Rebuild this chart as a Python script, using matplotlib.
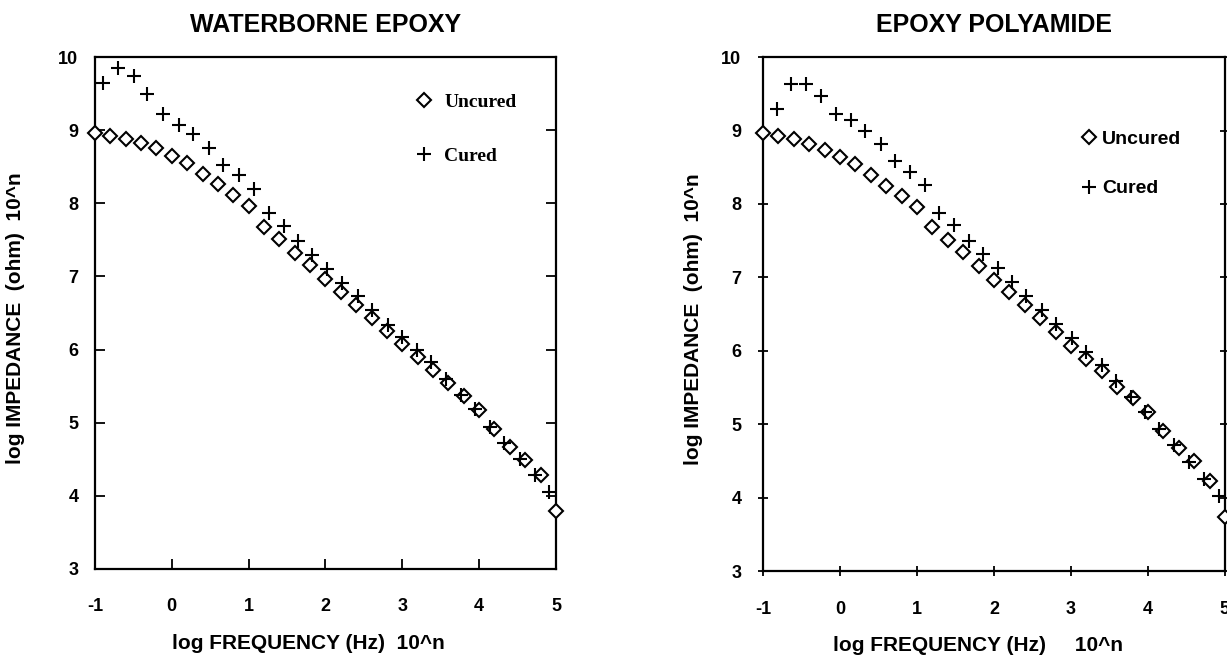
import matplotlib
matplotlib.use('Agg')
import matplotlib.pyplot as plt

# log frequency grid used for the uncured samples
freq = [-1.0, -0.8, -0.6, -0.4, -0.2, 0.0, 0.2, 0.4, 0.6, 0.8, 1.0, 1.2, 1.4, 1.6, 1.8, 2.0,
        2.2, 2.4, 2.6, 2.8, 3.0, 3.2, 3.4, 3.6, 3.8, 4.0, 4.2, 4.4, 4.6, 4.8, 5.0]

# WATERBORNE EPOXY
wb_uncured = [8.96, 8.92, 8.88, 8.82, 8.75, 8.65, 8.55, 8.40, 8.26, 8.11, 7.96, 7.68, 7.51, 7.32, 7.15, 6.96,
              6.79, 6.61, 6.43, 6.25, 6.08, 5.90, 5.72, 5.54, 5.36, 5.17, 4.92, 4.67, 4.49, 4.28, 3.79]
wb_cured_freq = [-0.90, -0.70, -0.49, -0.32, -0.11, 0.09, 0.28, 0.48, 0.67, 0.87, 1.07, 1.26, 1.46, 1.64, 1.83, 2.02,
                 2.22, 2.42, 2.60, 2.81, 2.99, 3.19, 3.38, 3.57, 3.77, 3.95, 4.14, 4.33, 4.53, 4.73, 4.91]
wb_cured = [9.65, 9.85, 9.74, 9.49, 9.22, 9.07, 8.95, 8.76, 8.53, 8.39, 8.20, 7.87, 7.69, 7.49, 7.29, 7.10,
            6.91, 6.73, 6.54, 6.34, 6.17, 6.00, 5.83, 5.60, 5.38, 5.19, 4.94, 4.72, 4.50, 4.28, 4.05]

# EPOXY POLYAMIDE
ep_uncured = [8.96, 8.92, 8.88, 8.82, 8.74, 8.64, 8.54, 8.39, 8.25, 8.11, 7.96, 7.68, 7.51, 7.34, 7.16, 6.97,
              6.80, 6.62, 6.44, 6.25, 6.07, 5.89, 5.73, 5.51, 5.35, 5.16, 4.91, 4.68, 4.50, 4.23, 3.73]
ep_cured_freq = [-0.82, -0.64, -0.44, -0.24, -0.05, 0.15, 0.32, 0.53, 0.71, 0.91, 1.10, 1.29, 1.48, 1.67, 1.86, 2.05,
                 2.24, 2.42, 2.63, 2.81, 3.01, 3.20, 3.40, 3.58, 3.78, 3.96, 4.15, 4.34, 4.54, 4.73, 4.92]
ep_cured = [9.29, 9.63, 9.63, 9.47, 9.23, 9.14, 8.99, 8.81, 8.59, 8.43, 8.26, 7.88, 7.71, 7.50, 7.32, 7.13,
            6.93, 6.75, 6.56, 6.37, 6.17, 5.98, 5.80, 5.59, 5.37, 5.16, 4.93, 4.71, 4.49, 4.25, 4.02]

xticks = [-1, 0, 1, 2, 3, 4, 5]
yticks = [3, 4, 5, 6, 7, 8, 9, 10]

plt.rcParams['font.family'] = 'Liberation Sans'
plt.rcParams['font.weight'] = 'bold'
plt.rcParams['axes.unicode_minus'] = False

fig = plt.figure(figsize=(12.27, 6.58), dpi=100)
ax1 = fig.add_axes([0.0774, 0.1353, 0.3757, 0.778])
ax2 = fig.add_axes([0.6218, 0.1322, 0.3765, 0.781])

panels = [
    (ax1, 'WATERBORNE EPOXY', wb_uncured, wb_cured_freq, wb_cured, 'in', 21, 'Liberation Serif',
     'log FREQUENCY (Hz)  10^n', 0.167),
    (ax2, 'EPOXY POLYAMIDE', ep_uncured, ep_cured_freq, ep_cured, 'inout', 18, 'Liberation Sans',
     'log FREQUENCY (Hz)     10^n', 0.152),
]

for ax, title, unc, cfreq, cur, tdir, xpad, legfont, xlab, xlab_x in panels:
    ax.plot(freq, unc, linestyle='none', marker='D', markersize=7.5, markerfacecolor='white',
            markeredgecolor='black', markeredgewidth=1.5, label='Uncured', clip_on=False, zorder=3)
    ax.plot(cfreq, cur, linestyle='none', marker='+', markersize=10, markeredgecolor='black',
            markeredgewidth=1.5, label='Cured', clip_on=False, zorder=4)

    ax.set_xlim(-1, 5)
    ax.set_ylim(3, 10)
    ax.set_xticks(xticks)
    ax.set_yticks(yticks)
    ax.tick_params(axis='both', labelsize=13, width=1.3, length=7, direction=tdir, right=True, top=False)
    ax.tick_params(axis='x', pad=xpad)
    ax.tick_params(axis='y', pad=12)
    for side in ax.spines.values():
        side.set_linewidth(1.6)

    ax.set_title(title, fontsize=18, fontweight='bold', pad=18)
    ax.set_xlabel(xlab, fontsize=15, fontweight='bold')
    ax.xaxis.set_label_coords(xlab_x, -0.145)
    ax.xaxis.label.set_ha('left')
    ax.xaxis.label.set_va('center')
    ax.set_ylabel('log IMPEDANCE  (ohm)  10^n', fontsize=15, fontweight='bold')

leg1 = ax1.legend(loc='upper left', bbox_to_anchor=(0.654, 0.964), frameon=False, handlelength=1.0,
                  handletextpad=0.55, labelspacing=1.9,
                  prop={'family': 'Liberation Serif', 'weight': 'bold', 'size': 14})
leg2 = ax2.legend(loc='upper left', bbox_to_anchor=(0.646, 0.892), frameon=False, handlelength=1.0,
                  handletextpad=0.2, labelspacing=1.65,
                  prop={'family': 'Liberation Sans', 'weight': 'bold', 'size': 14})

ax1.yaxis.set_label_coords(-0.152, 0.49)
ax2.yaxis.set_label_coords(-0.13, 0.49)

plt.savefig('out.png', dpi=100)
